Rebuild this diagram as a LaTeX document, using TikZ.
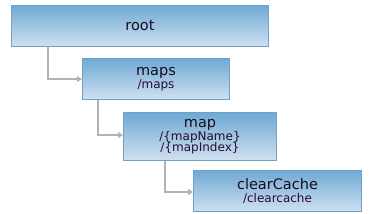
\documentclass[tikz,border=0pt]{standalone}
\usepackage{fontspec}
\setmainfont{DejaVu Sans}
\usetikzlibrary{arrows.meta}
\definecolor{boxtop}{HTML}{6FAAD3}
\definecolor{boxbot}{HTML}{D0E0F1}
\definecolor{boxline}{HTML}{6AA2CB}
\definecolor{conn}{HTML}{B2B2B2}
\definecolor{txt}{HTML}{1A0A1E}
\definecolor{subtxt}{HTML}{2A0A30}
\tikzset{
  box/.style={draw=boxline, line width=1pt, top color=boxtop, bottom color=boxbot,
    anchor=north west, inner sep=0pt, align=center, text=txt},
  conn/.style={draw=conn, line width=1.3pt, -{Triangle[length=5pt,width=6pt]}},
}
\newcommand{\sub}{\color{subtxt}\fontsize{12}{13.5}\selectfont}
\newcommand{\mainf}{\fontsize{14.5}{16}\selectfont}
\begin{document}
\begin{tikzpicture}[x=1pt,y=-1pt]
\useasboundingbox (0,0) rectangle (380,214);
\node[box, minimum width=257pt, minimum height=41pt] (root) at (11,5)
  {\mainf root};
\node[box, minimum width=147pt, minimum height=41pt] (maps) at (82,58)
  {\mainf maps\\[1.5pt]\sub /maps};
\node[box, minimum width=153pt, minimum height=48pt] (map) at (123,112)
  {\mainf map\\[-0.5pt]\sub /\{mapName\}\\[-1pt]\sub /\{mapIndex\}};
\node[box, minimum width=168pt, minimum height=41pt] (cc) at (193,170)
  {\mainf clearCache\\[1.5pt]\sub /clearcache};
\draw[conn] (root.south west) ++(37,0) |- (maps.west |- 0,79) ;
\draw[conn] (maps.south west) ++(16,0) |- (map.west |- 0,135);
\draw[conn] (map.south west) ++(42,0) |- (cc.west |- 0,192);
\end{tikzpicture}
\end{document}
